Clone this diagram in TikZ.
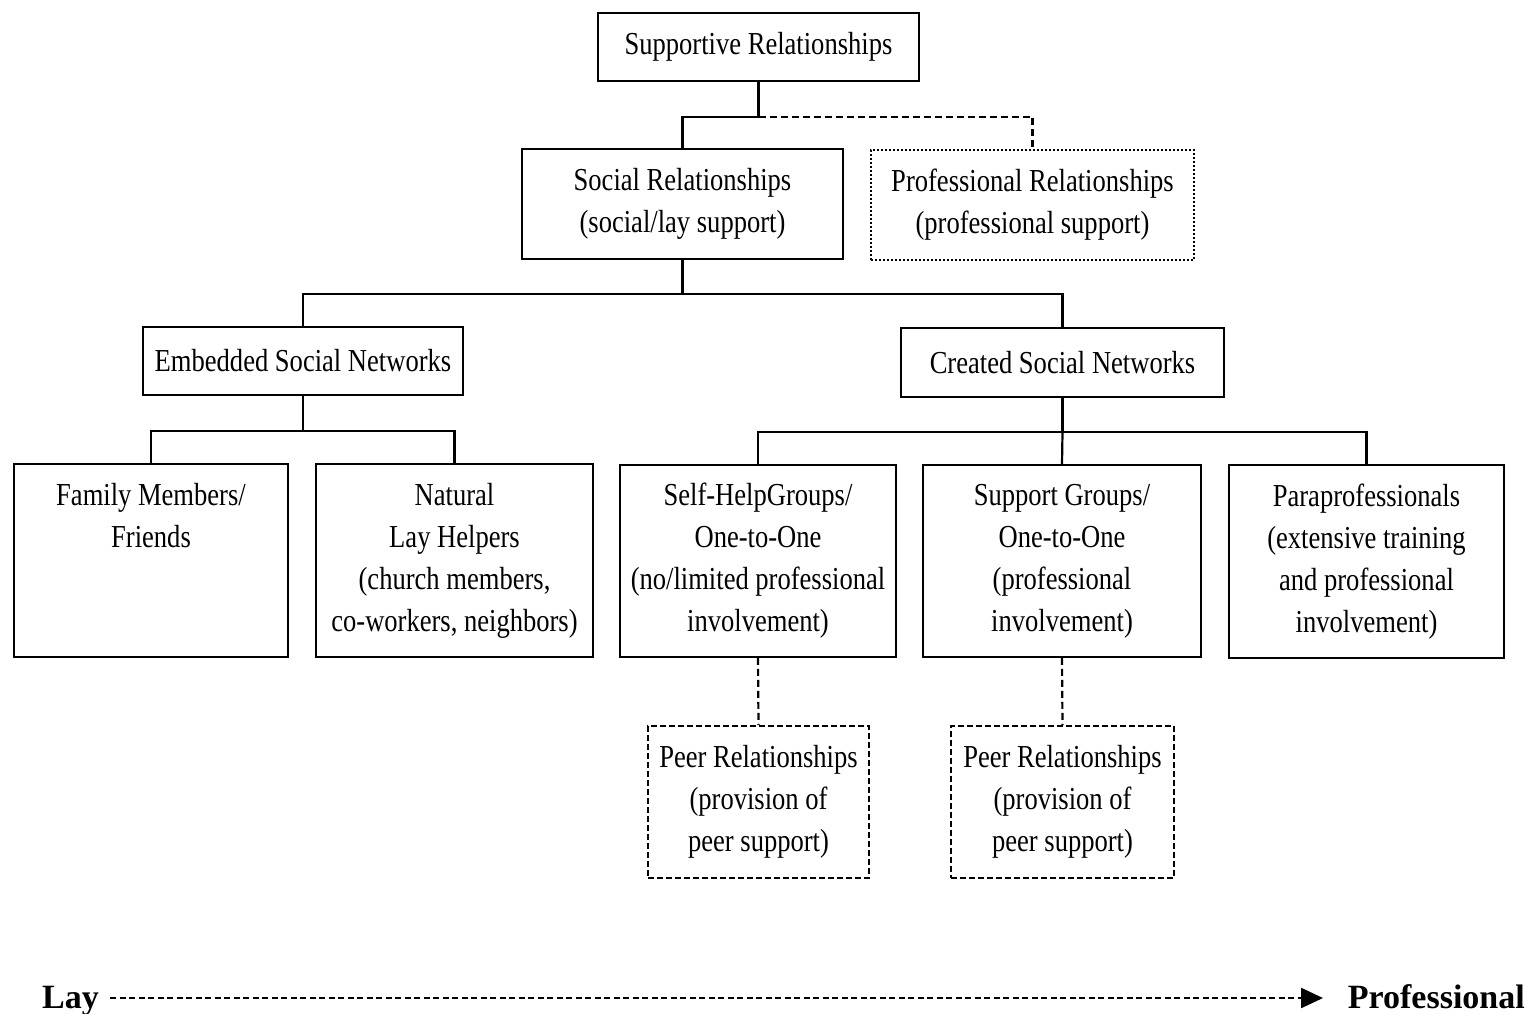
\documentclass[tikz,border=0pt]{standalone}
\usepackage{fontspec}
\setmainfont{Liberation Serif}
\newfontfamily\narrowserif[FakeStretch=0.83]{Liberation Serif}
\usetikzlibrary{arrows.meta}
\begin{document}
\begin{tikzpicture}[x=1pt,y=-1pt,
  box/.style={draw,line width=1.6pt,inner sep=0pt,align=center,
    font=\narrowserif\fontsize{32}{42}\selectfont},
  conn/.style={line width=2.2pt},
  dconn/.style={line width=2.2pt,dash pattern=on 7pt off 4pt},
  peerbox/.style={box,dash pattern=on 6pt off 3pt},
  profbox/.style={box,dash pattern=on 2pt off 2pt},
  endlabel/.style={font=\bfseries\fontsize{34}{40}\selectfont,inner sep=0pt}]
\useasboundingbox (0,0) rectangle (1531,1013);
\fill[white] (0,0) rectangle (1531,1013);

\node[box,minimum width=321pt,minimum height=68pt] (top) at (758.5,47) {Supportive Relationships};
\node[box,minimum width=321pt,minimum height=110pt] (social) at (682.5,204) {Social Relationships\\(social/lay support)};
\node[profbox,minimum width=323pt,minimum height=110pt] (prof) at (1032.5,205) {Professional Relationships\\(professional support)};
\node[box,minimum width=320pt,minimum height=68pt] (embedded) at (303,361) {Embedded Social Networks};
\node[box,minimum width=323pt,minimum height=69pt] (created) at (1062.5,362.5) {Created Social Networks};

\node[box,minimum width=274pt,minimum height=193pt] (family) at (151,560.5) {Family Members/\vphantom{(l}\\Friends\\\mbox{}\\\vphantom{()}};
\node[box,minimum width=277pt,minimum height=193pt] (natural) at (454.5,560.5) {Natural\\Lay Helpers\\(church members,\\co-workers, neighbors)};
\node[box,minimum width=276pt,minimum height=192pt] (selfhelp) at (758,561) {Self-HelpGroups/\\One-to-One\\(no/limited professional\\involvement)};
\node[box,minimum width=278pt,minimum height=192pt] (support) at (1062,561) {Support Groups/\\One-to-One\\(professional\\involvement)};
\node[box,minimum width=275pt,minimum height=193pt] (para) at (1366.5,561.5) {Paraprofessionals\\(extensive training\\and professional\\involvement)};

\node[peerbox,minimum width=221pt,minimum height=152pt] (peerA) at (758.5,802) {Peer Relationships\\(provision of\\peer support)};
\node[peerbox,minimum width=223pt,minimum height=152pt] (peerB) at (1062.5,802) {Peer Relationships\\(provision of\\peer support)};

% junctions
\coordinate (j1) at (758.5,117);
\coordinate (j2) at (682.5,294);
\coordinate (j3) at (303,431);
\coordinate (j4) at (1062.5,432);

\draw[conn] (top.south) -- (j1) -| (social.north);
\draw[dconn] (j1) -| (prof.north);
\draw[conn] (social.south) -- (j2);
\draw[conn] (j2) -| (embedded.north);
\draw[conn] (j2) -| (created.north);
\draw[conn] (embedded.south) -- (j3);
\draw[conn] (j3) -| (family.north);
\draw[conn] (j3) -| (natural.north);
\draw[conn] (created.south) -- (j4);
\draw[conn] (j4) -| (selfhelp.north);
\draw[conn] (j4) -- (support.north);
\draw[conn] (j4) -| (para.north);
\draw[dconn] (selfhelp.south) -- (peerA.north);
\draw[dconn] (support.south) -- (peerB.north);

% Lay -> Professional
\node[endlabel,anchor=base west] (lay) at (42,1008) {Lay};
\node[endlabel,anchor=base east] (professional) at (1525,1008) {Professional};
\coordinate (a0) at (110,998);
\coordinate (a1) at (1323,998);
\draw[line width=2.4pt,dash pattern=on 6pt off 3.5pt,-{Triangle[length=22pt,width=20pt]}] (a0) -- (a1);
\end{tikzpicture}
\end{document}
